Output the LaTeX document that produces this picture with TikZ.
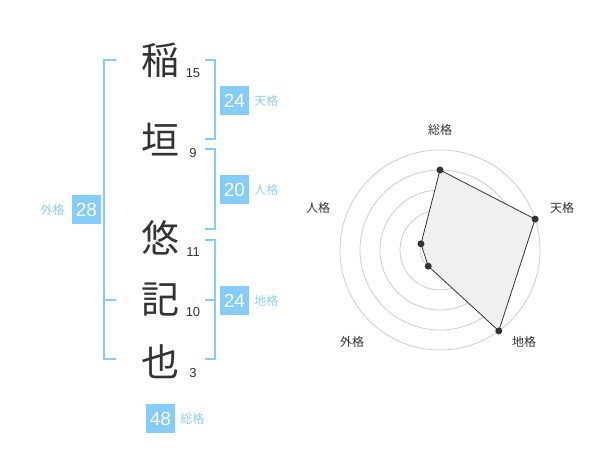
\documentclass[tikz,border=0pt]{standalone}
\usepackage{fontspec}
\setmainfont{Liberation Sans}
\newfontfamily\jp{Noto Sans CJK JP}
\usetikzlibrary{positioning}
\definecolor{sky}{HTML}{85CCF8}
\definecolor{skytext}{HTML}{8FCDF2}
\definecolor{ink}{HTML}{333333}
\tikzset{
  kanji/.style={font=\jp\fontsize{38}{38}\selectfont, text=ink, inner sep=0pt},
  strokes/.style={font=\fontsize{13}{13}\selectfont, text=ink, inner sep=0pt},
  score/.style={fill=sky, text=white, minimum size=29pt, inner sep=0pt, font=\fontsize{19}{19}\selectfont},
  kaku/.style={font=\jp\fontsize{12}{12}\selectfont, text=skytext, inner sep=0pt},
  bracket/.style={draw=sky, line width=2pt},
  axis/.style={font=\jp\fontsize{12}{12}\selectfont, text=ink, inner sep=0pt},
}
\begin{document}
\begin{tikzpicture}[x=1pt,y=1pt]
  \useasboundingbox (0,0) rectangle (600,470);
  % name and stroke counts
  \foreach \ch/\y/\st/\sy [count=\i] in {稲/410/15/397, 垣/330/9/317, 悠/232/11/218, 記/170/10/158, 也/108/3/97} {
    \node[kanji] (c\i) at (160,\y) {\ch};
    \node[strokes] (s\i) at (193,\sy) {\st};
  }
  % brackets
  \draw[bracket] (205,410) -- (215,410) -- (215,331) -- (205,331);
  \draw[bracket] (205,321) -- (215,321) -- (215,241) -- (205,241);
  \draw[bracket] (205,230) -- (215,230) -- (215,111) -- (205,111) (205,170) -- (215,170);
  \draw[bracket] (116,410) -- (104,410) -- (104,111) -- (116,111) (104,170) -- (116,170);
  % scores
  \node[score] (ten) at (234.5,369.5) {24};
  \node[kaku, right=5pt of ten] (tenl) {天格};
  \node[score] (jin) at (234.5,280) {20};
  \node[kaku, right=5pt of jin] (jinl) {人格};
  \node[score] (chi) at (234.5,169.5) {24};
  \node[kaku, right=5pt of chi] (chil) {地格};
  \node[score] (gai) at (86.5,260) {28};
  \node[kaku, left=7pt of gai] (gail) {外格};
  \node[score] (sou) at (160.5,51.5) {48};
  \node[kaku, right=5pt of sou] (soul) {総格};
  % radar
  \coordinate (o) at (440,220);
  \foreach \r in {20,40,...,100}
    \draw[black!20, line width=0.8pt] (o) circle[radius=\r];
  \fill[black!22] (o) circle[radius=4];
  \foreach \a/\v [count=\i] in {90/80, 18/100, -54/100, -126/20, 162/20}
    \coordinate (p\i) at ([shift={(\a:\v)}]o);
  \filldraw[fill=black!6, draw=ink, line width=0.8pt] (p1) -- (p2) -- (p3) -- (p4) -- (p5) -- cycle;
  \foreach \i in {1,...,5}
    \fill[ink] (p\i) circle[radius=3.5];
  \node[axis] (a1) at (440,340) {総格};
  \node[axis] (a2) at (562,262) {天格};
  \node[axis] (a3) at (524,128) {地格};
  \node[axis] (a4) at (352,128) {外格};
  \node[axis] (a5) at (318,262) {人格};
\end{tikzpicture}
\end{document}
